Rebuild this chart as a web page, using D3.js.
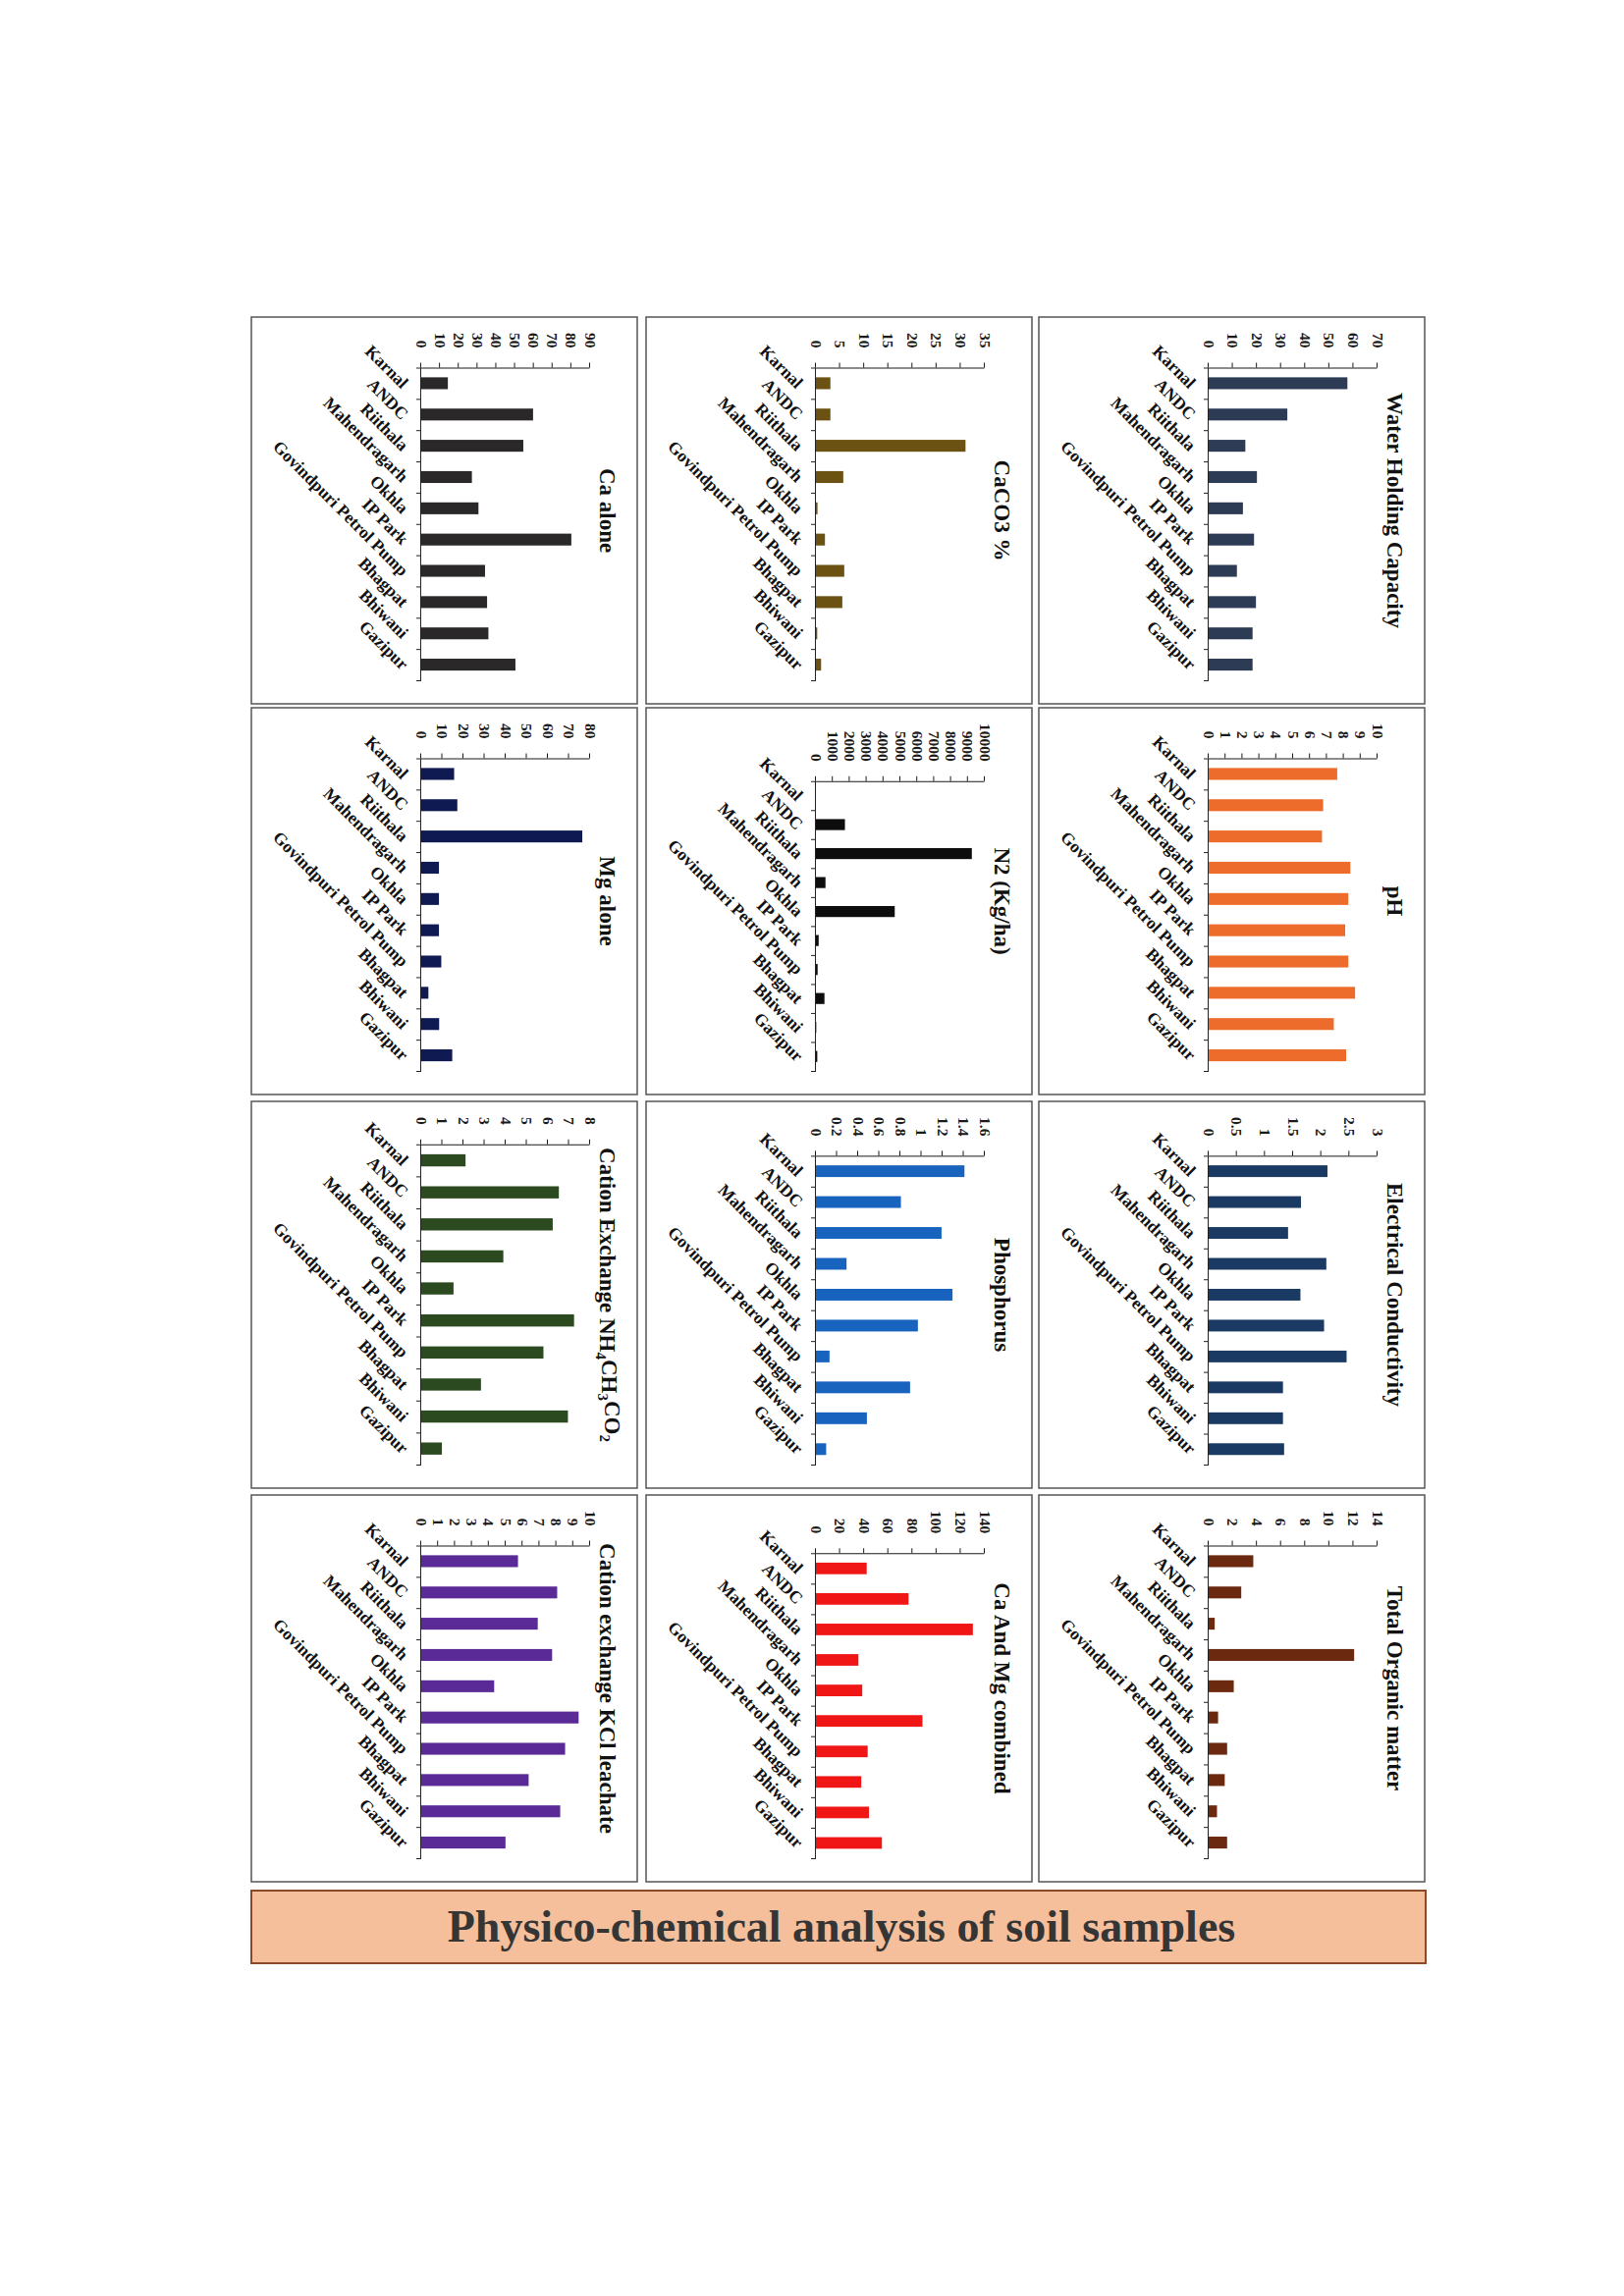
<!DOCTYPE html>
<html>
<head>
<meta charset="utf-8">
<script src="https://cdn.jsdelivr.net/npm/d3@7.9.0/dist/d3.min.js"></script>
<style>
  body { margin: 0; background: #fff; }
  svg text { font-family: "Liberation Serif", "Times New Roman", serif; font-weight: bold; }
</style>
</head>
<body>
<svg id="chart" width="1654" height="2339"></svg>
<script>
// sampling sites (same order in every panel)
const sites = ['Karnal', 'ANDC', 'Riithala', 'Mahendragarh', 'Okhla', 'IP Park',
  'Govindpuri Petrol Pump', 'Bhagpat', 'Bhiwani', 'Gazipur'];

// values
const waterHolding = [57.5, 32.6, 15.2, 20.0, 14.2, 18.8, 11.7, 19.6, 18.2, 18.2];
const pH = [7.61, 6.78, 6.71, 8.39, 8.27, 8.08, 8.27, 8.67, 7.41, 8.14];
const conductivity = [2.11, 1.64, 1.41, 2.09, 1.63, 2.05, 2.45, 1.32, 1.32, 1.34];
const organicMatter = [3.7, 2.7, 0.5, 12.06, 2.08, 0.78, 1.53, 1.33, 0.69, 1.53];
const caco3 = [3.0, 3.0, 31.0, 5.67, 0.33, 1.87, 5.87, 5.47, 0.27, 1.07];
const nitrogen = [0, 1717, 9232, 566, 4667, 162, 100, 505, 20, 80];
const phosphorus = [1.407, 0.805, 1.19, 0.29, 1.294, 0.966, 0.129, 0.892, 0.483, 0.097];
const caMgCombined = [42.1, 76.8, 130.1, 35.2, 38.4, 88.3, 42.9, 37.6, 44.0, 54.7];
const caAlone = [14.2, 59.6, 54.4, 27.0, 30.5, 80.0, 34.0, 35.1, 35.8, 50.2];
const mgAlone = [15.6, 17.1, 76.3, 8.4, 8.4, 8.4, 9.5, 3.4, 8.5, 14.7];
const cecAcetate = [2.10, 6.52, 6.23, 3.89, 1.53, 7.24, 5.79, 2.83, 6.95, 0.98];
const cecKCl = [5.73, 8.05, 6.90, 7.75, 4.32, 9.32, 8.52, 6.36, 8.23, 4.99];

// axis maxima and tick steps
const axisMax = [70, 10, 3, 14, 35, 10000, 1.6, 140, 90, 80, 8, 10];
const axisStep = [10, 1, 0.5, 2, 5, 1000, 0.2, 20, 10, 10, 1, 1];

const panels = [
  { title: ['Water Holding Capacity'], values: waterHolding, color: '#2e3b55', col: 2, row: 0 },
  { title: ['pH'], values: pH, color: '#ee6c2b', col: 2, row: 1 },
  { title: ['Electrical Conductivity'], values: conductivity, color: '#1a3a64', col: 2, row: 2 },
  { title: ['Total Organic matter'], values: organicMatter, color: '#6b2a10', col: 2, row: 3 },
  { title: ['CaCO3 %'], values: caco3, color: '#6b5212', col: 1, row: 0 },
  { title: ['N2 (Kg/ha)'], values: nitrogen, color: '#0d0d0d', col: 1, row: 1 },
  { title: ['Phosphorus'], values: phosphorus, color: '#1863bd', col: 1, row: 2 },
  { title: ['Ca And Mg combined'], values: caMgCombined, color: '#f01616', col: 1, row: 3 },
  { title: ['Ca alone'], values: caAlone, color: '#2a2828', col: 0, row: 0 },
  { title: ['Mg alone'], values: mgAlone, color: '#0f1a52', col: 0, row: 1 },
  { title: ['Cation Exchange NH', '4', 'CH', '3', 'CO', '2'], values: cecAcetate, color: '#2b4a1f', col: 0, row: 2 },
  { title: ['Cation exchange KCl leachate'], values: cecKCl, color: '#5a2a96', col: 0, row: 3 }
];

const colLeft = [256, 658, 1058];
const rowTop = [323, 721, 1122, 1523];
const panelW = 393, panelH = 394;

const svg = d3.select('#chart');

panels.forEach((p, i) => {
  const left = colLeft[p.col], top = rowTop[p.row];

  svg.append('rect')
    .attr('x', left).attr('y', top)
    .attr('width', panelW).attr('height', panelH)
    .attr('fill', '#fff').attr('stroke', '#555').attr('stroke-width', 1.5);

  // each chart is drawn upright, then turned a quarter clockwise
  const w = panelH, h = panelW;
  const g = svg.append('g')
    .attr('transform', `translate(${left + panelW},${top}) rotate(90)`);

  // title
  const t = g.append('text')
    .attr('x', w / 2).attr('y', 38)
    .attr('text-anchor', 'middle')
    .attr('font-size', 23).attr('fill', '#111');
  p.title.forEach((part, k) => {
    const sub = k % 2 === 1;
    t.append('tspan')
      .attr('dy', sub ? '0.3em' : (k > 0 ? '-0.3em' : null))
      .attr('font-size', sub ? 15 : null)
      .text(part);
  });

  const y = d3.scaleLinear().domain([0, axisMax[i]]).range([220, 48]);
  const ticks = d3.range(0, Math.round(axisMax[i] / axisStep[i]) + 1).map(k => k * axisStep[i]);

  const yAxisG = g.append('g');
  yAxisG.call(d3.axisLeft(y)
      .tickValues(ticks)
      .tickFormat(d3.format('~g'))
      .tickSize(5).tickSizeOuter(0).tickPadding(15))
    .attr('font-size', 15.5).attr('color', '#1a1a1a');
  const maxLen = d3.max(yAxisG.selectAll('text').nodes(), n => n.getComputedTextLength());
  const x0 = 16 + maxLen + 20;
  const x1 = w - 24;
  yAxisG.attr('transform', `translate(${x0},0)`);

  const x = d3.scaleBand().domain(sites).range([x0, x1])
    .paddingInner(0.62).paddingOuter(0.31);

  g.append('g').selectAll('rect')
    .data(p.values)
    .join('rect')
    .attr('x', (d, k) => x(sites[k]))
    .attr('width', x.bandwidth())
    .attr('y', d => y(d))
    .attr('height', d => y(0) - y(d))
    .attr('fill', p.color);

  // category axis: ticks sit between the sites
  const xb = d3.scaleLinear().domain([0, sites.length]).range([x0, x1]);
  g.append('g')
    .attr('transform', `translate(0,${y(0)})`)
    .call(d3.axisBottom(xb).tickValues(d3.range(sites.length + 1))
      .tickFormat('').tickSize(5).tickSizeOuter(0))
    .attr('color', '#222');

  const labels = g.append('g')
    .attr('transform', `translate(0,${y(0)})`)
    .call(d3.axisBottom(x).tickSize(0).tickPadding(0))
    .attr('font-size', 17.5).attr('color', '#111');
  labels.select('.domain').remove();
  labels.selectAll('text')
    .attr('y', 0).attr('dy', '0.35em')
    .attr('text-anchor', 'end')
    .attr('transform', 'translate(2,16) rotate(-45)');
});

// caption box
svg.append('rect')
  .attr('x', 256).attr('y', 1926)
  .attr('width', 1196).attr('height', 74)
  .attr('fill', '#f6bf9b').attr('stroke', '#8a4a2a').attr('stroke-width', 2);
svg.append('text')
  .attr('x', 857).attr('y', 1978)
  .attr('text-anchor', 'middle')
  .attr('font-size', 46).attr('fill', '#353535')
  .text('Physico-chemical analysis of soil samples');
</script>
</body>
</html>
